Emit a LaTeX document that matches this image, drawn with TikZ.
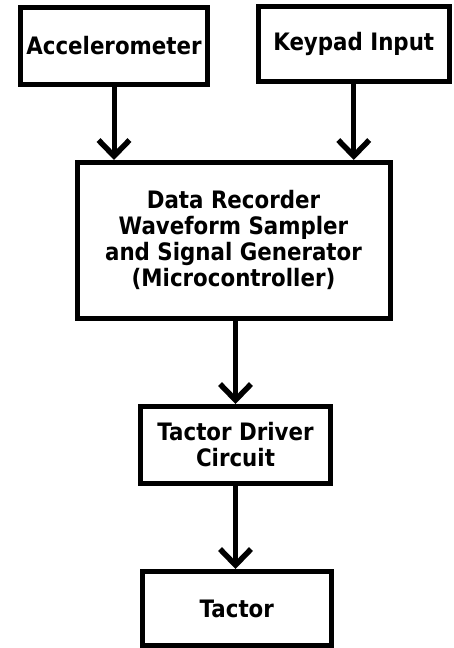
\documentclass[tikz,border=0pt]{standalone}
\usepackage{fontspec}
\newfontfamily\boxfont{DejaVu Sans}[FakeStretch=0.89]
\usetikzlibrary{arrows.meta}
\tikzset{
  blk/.style={draw=black, line width=5pt, fill=white, inner sep=0pt, align=center,
    font=\boxfont\bfseries\fontsize{24}{26}\selectfont},
  flow/.style={line width=5pt, -{Straight Barb[length=16pt, width=31pt, line width=5.5pt]}}
}
\begin{document}
\begin{tikzpicture}[x=1pt, y=-1pt]
\useasboundingbox (0,0) rectangle (453,648);
\node[blk, minimum width=186.5pt, minimum height=77.5pt] (acc) at (114,46) {Accelerometer};
\node[blk, minimum width=190.5pt, minimum height=74.5pt] (key) at (353.75,43.75) {Keypad Input};
\node[blk, minimum width=313pt, minimum height=155.5pt] (mcu) at (233.5,240.25)
  {Data Recorder\\Waveform Sampler\\and Signal Generator\\(Microcontroller)};
\node[blk, minimum width=190pt, minimum height=77pt] (drv) at (235.5,445) {Tactor Driver\\Circuit};
\node[blk, minimum width=189.5pt, minimum height=74pt] (tac) at (236.75,608.5) {Tactor};
\draw[flow] (acc.south) -- (acc.south |- mcu.north);
\draw[flow] (key.south) -- (key.south |- mcu.north);
\draw[flow] (drv.north |- mcu.south) -- (drv.north);
\draw[flow] (drv.south) -- (drv.south |- tac.north);
\end{tikzpicture}
\end{document}
